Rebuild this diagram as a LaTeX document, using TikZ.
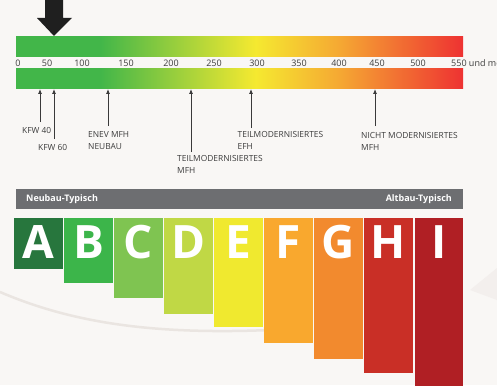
\documentclass[tikz,border=0pt]{standalone}
\usepackage{fontspec}
\setmainfont{Open Sans}
\usetikzlibrary{arrows.meta}
\definecolor{bgc}{HTML}{F9F7F5}
\definecolor{barg}{HTML}{42B649}
\definecolor{bary}{HTML}{F5E930}
\definecolor{baro}{HTML}{F5A833}
\definecolor{barr}{HTML}{EE3232}
\definecolor{graybar}{HTML}{6D6E71}
\definecolor{arrowc}{HTML}{3A3A3A}
\definecolor{txt}{HTML}{3C3C3C}
\definecolor{cA}{HTML}{27763D}
\definecolor{cB}{HTML}{3CB54A}
\definecolor{cC}{HTML}{7FC451}
\definecolor{cD}{HTML}{C0D845}
\definecolor{cE}{HTML}{F0E92F}
\definecolor{cF}{HTML}{F9A82E}
\definecolor{cG}{HTML}{F28A2E}
\definecolor{cH}{HTML}{C92F26}
\definecolor{cI}{HTML}{B01F24}
\definecolor{swoosh}{HTML}{EAE5E1}
\pgfdeclarehorizontalshading{energy}{100bp}{color(0bp)=(barg); color(25bp)=(barg); color(34.4bp)=(barg); color(51.8bp)=(bary); color(61.2bp)=(baro); color(75bp)=(barr); color(100bp)=(barr)}
\tikzset{
  tick/.style={font=\fontsize{9}{10}\selectfont, text=txt, inner sep=0pt, anchor=center},
  lbl/.style={font=\fontsize{8.4}{12}\selectfont, text=txt, inner sep=0pt, anchor=north west, align=left},
  marker/.style={draw=arrowc, line width=0.8pt, -{Latex[length=5pt,width=4pt]}},
  cbox/.style={fill=#1, draw=none, inner sep=0pt, outer sep=0pt, minimum width=49, anchor=north west},
  letter/.style={font=\fontsize{46}{46}\bfseries\selectfont, text=white, inner sep=0pt, anchor=base},
  headtxt/.style={font=\fontsize{9}{10}\bfseries\selectfont, text=white, inner sep=0pt}
}
\begin{document}
\begin{tikzpicture}[x=1pt,y=-1pt]
\fill[bgc] (0,0) rectangle (497,385);
\useasboundingbox (0,0) rectangle (497,385);
% faint background swoosh
\draw[swoosh, line width=2.5pt] (0,292) .. controls (70,322) and (150,335) .. (270,330);
\fill[swoosh!60] (470,290) -- (497,268) -- (497,300) -- cycle;
% big arrow
\fill[black!88] (45,0) -- (63,0) -- (63,18) -- (72,18) -- (54,36) -- (37,18) -- (45,18) -- cycle;
% bars
\node[shading=energy, inner sep=0pt, outer sep=0pt, minimum width=447, minimum height=20, anchor=north west] (barT) at (16,37) {};
\node[shading=energy, inner sep=0pt, outer sep=0pt, minimum width=447, minimum height=20, anchor=north west] (barB) at (16,69) {};
% tick labels
\node[tick] (t0) at (18,63) {0};
\node[tick] (t50) at (47,63) {50};
\node[tick] (t100) at (82,63) {100};
\node[tick] (t150) at (126,63) {150};
\node[tick] (t200) at (171,63) {200};
\node[tick] (t250) at (214,63) {250};
\node[tick] (t300) at (257,63) {300};
\node[tick] (t350) at (299,63) {350};
\node[tick] (t400) at (339,63) {400};
\node[tick] (t450) at (377,63) {450};
\node[tick] (t500) at (418,63) {500};
\node[tick, anchor=west] (t550) at (451,63) {550 und mehr};
% labels
\node[lbl] (kfw40) at (22,127.7) {KFW 40};
\node[lbl] (kfw60) at (38,144.3) {KFW 60};
\node[lbl] (enev) at (88,131.7) {ENEV MFH\\NEUBAU};
\node[lbl] (tmfh) at (177,155.7) {TEILMODERNISIERTES\\MFH};
\node[lbl] (tefh) at (237.5,131.7) {TEILMODERNISIERTES\\EFH};
\node[lbl] (nmfh) at (361,132.3) {NICHT MODERNISIERTES\\MFH};
% arrow coordinates
\coordinate (a1s) at (40,122); \coordinate (a1e) at (40,89);
\coordinate (a2s) at (54,139); \coordinate (a2e) at (54,89);
\coordinate (a3s) at (108,126); \coordinate (a3e) at (108,89);
\coordinate (a4s) at (191,152); \coordinate (a4e) at (191,89);
\coordinate (a5s) at (251,128); \coordinate (a5e) at (251,89);
\coordinate (a6s) at (375,126); \coordinate (a6e) at (375,89);
\draw[marker] (a1s) -- (a1e);
\draw[marker] (a2s) -- (a2e);
\draw[marker] (a3s) -- (a3e);
\draw[marker] (a4s) -- (a4e);
\draw[marker] (a5s) -- (a5e);
\draw[marker] (a6s) -- (a6e);
% gray header bar
\node[fill=graybar, inner sep=0pt, outer sep=0pt, minimum width=447, minimum height=20, anchor=north west] (head) at (16,189) {};
\node[headtxt, anchor=west] (neu) at (26,199) {Neubau-Typisch};
\node[headtxt, anchor=east] (alt) at (452,199) {Altbau-Typisch};
% class boxes
\node[cbox=cA, minimum height=51] (bA) at (14,218) {};
\node[cbox=cB, minimum height=65] (bB) at (64,218) {};
\node[cbox=cC, minimum height=80] (bC) at (114,218) {};
\node[cbox=cD, minimum height=96] (bD) at (164,218) {};
\node[cbox=cE, minimum height=109] (bE) at (214,218) {};
\node[cbox=cF, minimum height=125] (bF) at (264,218) {};
\node[cbox=cG, minimum height=141] (bG) at (314,218) {};
\node[cbox=cH, minimum height=155] (bH) at (364,218) {};
\node[cbox=cI, minimum height=175, minimum width=48] (bI) at (415,218) {};
% letters
\node[letter] (lA) at (38.5,258) {A};
\node[letter] (lB) at (88.5,258) {B};
\node[letter] (lC) at (138.5,258) {C};
\node[letter] (lD) at (188.5,258) {D};
\node[letter] (lE) at (238.5,258) {E};
\node[letter] (lF) at (288.5,258) {F};
\node[letter] (lG) at (338.5,258) {G};
\node[letter] (lH) at (388.5,258) {H};
\node[letter] (lI) at (439,258) {I};
\end{tikzpicture}
\end{document}
